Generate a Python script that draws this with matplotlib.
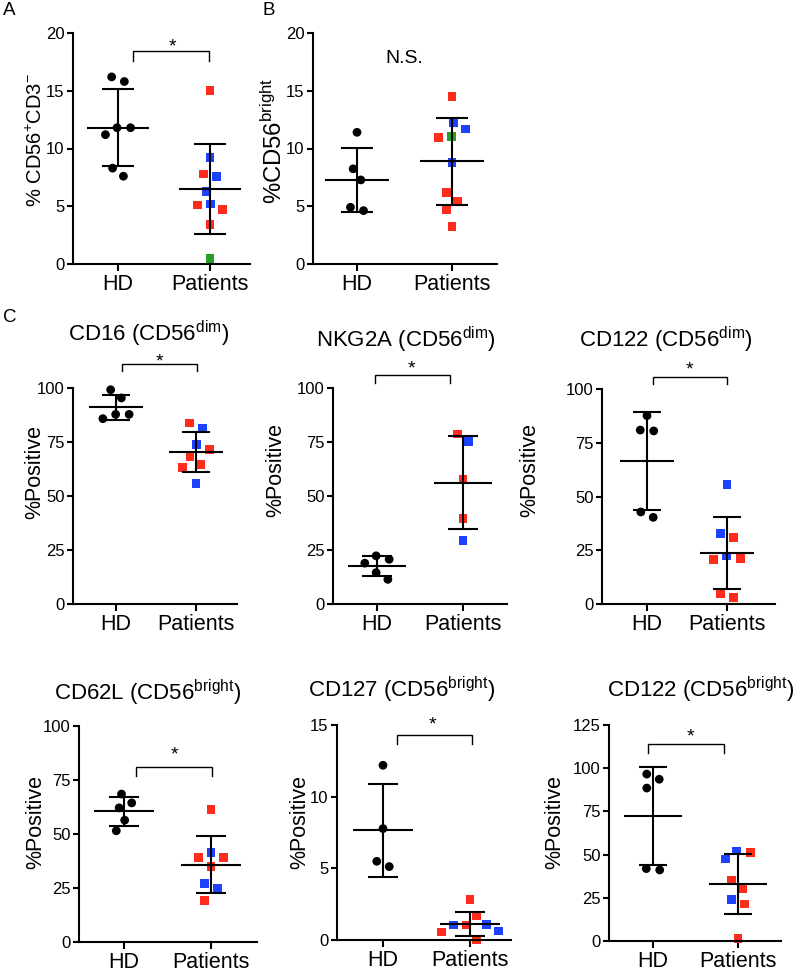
import numpy as np
import matplotlib
matplotlib.use('Agg')
import matplotlib.pyplot as plt

plt.rcParams['font.family'] = ['Liberation Sans', 'DejaVu Sans']
plt.rcParams['mathtext.fontset'] = 'custom'
plt.rcParams['mathtext.rm'] = 'Liberation Sans'
plt.rcParams['mathtext.it'] = 'Liberation Sans:italic'
plt.rcParams['mathtext.bf'] = 'Liberation Sans:bold'

# ---------------- data ----------------
groups = ['HD', 'Patients']

a_hd = [16.2, 15.8, 11.8, 11.8, 11.2, 8.3, 7.6]
a_pt = [15.0, 9.2, 7.8, 7.6, 6.3, 5.2, 5.1, 4.7, 3.4, 0.5]
a_pt_col = ['r', 'b', 'r', 'b', 'b', 'b', 'r', 'r', 'r', 'g']

b_hd = [11.4, 8.24, 7.28, 4.91, 4.62]
b_pt = [14.5, 12.2, 11.68, 11.04, 10.98, 8.82, 6.18, 5.46, 4.68, 3.24]
b_pt_col = ['r', 'b', 'b', 'g', 'r', 'b', 'r', 'r', 'r', 'r']

cd16_hd = [99.2, 95.4, 87.8, 87.8, 85.8]
cd16_pt = [83.8, 81.3, 73.8, 71.5, 68.4, 64.6, 63.2, 55.8]
cd16_pt_col = ['r', 'b', 'b', 'r', 'r', 'r', 'r', 'b']

nkg2a_hd = [22.3, 20.7, 18.9, 14.5, 11.4]
nkg2a_pt = [78.7, 75.3, 57.5, 39.7, 29.4]
nkg2a_pt_col = ['r', 'b', 'r', 'r', 'b']

cd122d_hd = [87.6, 80.9, 80.5, 42.8, 40.3]
cd122d_pt = [55.7, 32.9, 30.9, 22.3, 21.2, 20.6, 5.0, 2.9]
cd122d_pt_col = ['b', 'b', 'r', 'b', 'r', 'r', 'r', 'r']

cd62l_hd = [68.5, 64.4, 62.1, 56.4, 51.5]
cd62l_pt = [61.4, 41.4, 39.1, 39.1, 34.8, 27.1, 24.8, 19.3]
cd62l_pt_col = ['r', 'b', 'r', 'r', 'r', 'b', 'b', 'r']

cd127_hd = [12.19, 7.77, 5.49, 5.12]
cd127_pt = [2.84, 1.72, 1.09, 1.05, 1.05, 0.63, 0.56, 0.0]
cd127_pt_col = ['r', 'r', 'b', 'r', 'b', 'b', 'r', 'r']

cd122b_hd = [96.6, 93.6, 88.5, 41.9, 41.1]
cd122b_pt = [52.1, 51.1, 47.5, 35.3, 30.5, 24.1, 21.4, 1.5]
cd122b_pt_col = ['b', 'r', 'b', 'r', 'r', 'b', 'r', 'r']

COLORS = {'r': '#FF2B1C', 'b': '#1C42FF', 'g': '#22A02A', 'k': '#000000'}

W, H = 800, 977

# ---------------- layout (pixels) ----------------
panels = [
    dict(hd=a_hd, pt=a_pt, col=a_pt_col, box=(73, 33, 250, 264), cx=(118, 210),
         ylim=(0, 20), yticks=[0, 5, 10, 15, 20],
         ylabel=r'% CD56$^{+}$CD3$^{-}$', ylab_xy=(36, 140), ylab_len=134, title=None,
         bracket=(0.16, 0.99, 18.4, 17.6), star=(0.59, 18.4), ns=None),
    dict(hd=b_hd, pt=b_pt, col=b_pt_col, box=(313, 33, 497, 264), cx=(357, 452),
         ylim=(0, 20), yticks=[0, 5, 10, 15, 20],
         ylabel=r'%CD56$^{\mathrm{bright}}$', ylab_xy=(274, 141), ylab_len=127, title=None,
         bracket=None, star=None, ns=(0.5, 17.8)),
    dict(hd=cd16_hd, pt=cd16_pt, col=cd16_pt_col, box=(73, 388, 237, 604), cx=(116, 196),
         ylim=(0, 100), yticks=[0, 25, 50, 75, 100],
         ylabel='%Positive', ylab_xy=(35, 472), ylab_len=95,
         title=r'CD16 (CD56$^{\mathrm{dim}}$)', title_xy=(149, 334),
         bracket=(0.075, 1.01, 111.3, 107.7), star=(0.54, 110.0), ns=None),
    dict(hd=nkg2a_hd, pt=nkg2a_pt, col=nkg2a_pt_col, box=(333, 388, 507, 604), cx=(377, 463),
         ylim=(0, 100), yticks=[0, 25, 50, 75, 100],
         ylabel='%Positive', ylab_xy=(276, 470), ylab_len=95,
         title=r'NKG2A (CD56$^{\mathrm{dim}}$)', title_xy=(406, 340),
         bracket=(-0.02, 0.85, 106.0, 102.2), star=(0.40, 106.9), ns=None),
    dict(hd=cd122d_hd, pt=cd122d_pt, col=cd122d_pt_col, box=(602, 389, 775, 604), cx=(647, 727),
         ylim=(0, 100), yticks=[0, 25, 50, 75, 100],
         ylabel='%Positive', ylab_xy=(530, 470), ylab_len=95,
         title=r'CD122 (CD56$^{\mathrm{dim}}$)', title_xy=(666, 340),
         bracket=(0.075, 1.0, 105.7, 102.3), star=(0.53, 106.8), ns=None),
    dict(hd=cd62l_hd, pt=cd62l_pt, col=cd62l_pt_col, box=(79, 726, 257, 942), cx=(124, 211),
         ylim=(0, 100), yticks=[0, 25, 50, 75, 100],
         ylabel='%Positive', ylab_xy=(36, 822), ylab_len=95,
         title=r'CD62L (CD56$^{\mathrm{bright}}$)', title_xy=(148, 693),
         bracket=(0.14, 1.01, 81.1, 77.0), star=(0.58, 84.5), ns=None),
    dict(hd=cd127_hd, pt=cd127_pt, col=cd127_pt_col, box=(337, 725, 511, 940), cx=(383, 470),
         ylim=(0, 15), yticks=[0, 5, 10, 15],
         ylabel='%Positive', ylab_xy=(300, 822), ylab_len=95,
         title=r'CD127 (CD56$^{\mathrm{bright}}$)', title_xy=(402, 690),
         bracket=(0.16, 1.02, 14.3, 13.7), star=(0.57, 14.7), ns=None),
    dict(hd=cd122b_hd, pt=cd122b_pt, col=cd122b_pt_col, box=(609, 725, 781, 941), cx=(653, 738),
         ylim=(0, 125), yticks=[0, 25, 50, 75, 100, 125],
         ylabel='%Positive', ylab_xy=(555, 822), ylab_len=95,
         title=r'CD122 (CD56$^{\mathrm{bright}}$)', title_xy=(701, 690),
         bracket=(-0.055, 0.83, 114.0, 109.0), star=(0.44, 115.5), ns=None),
]


def swarm(vals, px_per_y, px_per_x, d=13.5):
    """Simple beeswarm: offsets (data units) so markers do not overlap."""
    v = np.asarray(vals, float)
    ypx = v * px_per_y
    order = list(np.argsort(-v, kind='stable'))
    clusters, cur = [], [order[0]]
    for i in order[1:]:
        if abs(ypx[cur[-1]] - ypx[i]) < d:
            cur.append(i)
        else:
            clusters.append(cur)
            cur = [i]
    clusters.append(cur)
    xs = np.zeros(len(v))
    for cl in clusters:
        placed = []
        for i in cl:
            ivs = []
            for j in placed:
                dy = abs(ypx[i] - ypx[j])
                if dy < d:
                    dx = np.sqrt(d * d - dy * dy)
                    ivs.append((xs[j] - dx, xs[j] + dx))
            cands = [0.0] + [e for iv in ivs for e in iv]
            best = 0.0
            for c in sorted(cands, key=lambda c: (round(abs(c), 6), -c)):
                if all(not (lo + 1e-9 < c < hi - 1e-9) for lo, hi in ivs):
                    best = c
                    break
            xs[i] = best
            placed.append(i)
        idx = np.array(cl)
        xs[idx] -= (xs[idx].min() + xs[idx].max()) / 2
    return xs / px_per_x


fig = plt.figure(figsize=(W / 100, H / 100), dpi=100)

LW = 1.5
MEAN_HW = 0.34
CAP_HW = 0.17
MS = 6.3

ylabel_texts = []
for p in panels:
    l, t, r, b = p['box']
    ax = fig.add_axes([l / W, 1 - b / H, (r - l) / W, (b - t) / H])
    hdx, ptx = p['cx']
    pxx = ptx - hdx
    ax.set_xlim((l - hdx) / pxx, (r - hdx) / pxx)
    ax.set_ylim(*p['ylim'])
    pxy = (b - t) / (p['ylim'][1] - p['ylim'][0])

    sets = [(p['hd'], ['k'] * len(p['hd']), 'o'), (p['pt'], p['col'], 's')]
    for gi, (vals, cols, mk) in enumerate(sets):
        vals = np.asarray(vals, float)
        xs = gi + swarm(vals, pxy, pxx)
        ax.scatter(xs, vals, s=MS ** 2, marker=mk, c=[COLORS[c] for c in cols],
                   linewidths=0, zorder=2, clip_on=False)
        m = vals.mean()
        sd = vals.std(ddof=1)
        ax.plot([gi - MEAN_HW, gi + MEAN_HW], [m, m], color='k', lw=LW, zorder=3,
                solid_capstyle='butt')
        ax.plot([gi, gi], [m - sd, m + sd], color='k', lw=LW, zorder=3,
                solid_capstyle='butt')
        for yy in (m - sd, m + sd):
            ax.plot([gi - CAP_HW, gi + CAP_HW], [yy, yy], color='k', lw=LW, zorder=3,
                    solid_capstyle='butt')

    for s in ['top', 'right']:
        ax.spines[s].set_visible(False)
    for s in ['left', 'bottom']:
        ax.spines[s].set_linewidth(LW)
    ax.set_yticks(p['yticks'])
    ax.set_xticks([0, 1])
    ax.set_xticklabels(groups)
    ax.tick_params(axis='y', length=4.5, width=LW, labelsize=12, pad=1.5)
    ax.tick_params(axis='x', length=5, width=LW, labelsize=15.5, pad=2)
    ax.patch.set_visible(False)

    if p['bracket'] is not None:
        x0, x1, yt, yd = p['bracket']
        ax.plot([x0, x0, x1, x1], [yd, yt, yt, yd], color='k', lw=1.0, clip_on=False,
                solid_joinstyle='miter')
    if p['star'] is not None:
        ax.text(p['star'][0], p['star'][1], '*', ha='center', va='baseline',
                fontsize=14, clip_on=False)
    if p['ns'] is not None:
        ax.text(p['ns'][0], p['ns'][1], 'N.S.', ha='center', va='center', fontsize=14)

    tl = fig.text(p['ylab_xy'][0] / W, 1 - p['ylab_xy'][1] / H, p['ylabel'], rotation=90,
                  ha='center', va='center', fontsize=15)
    ylabel_texts.append((tl, p['ylab_len']))
    if p.get('title'):
        fig.text(p['title_xy'][0] / W, 1 - p['title_xy'][1] / H, p['title'],
                 ha='center', va='center', fontsize=16)

for letter, (x, y) in zip(['A', 'B', 'C'], [(3, 2), (262, 2), (3, 309)]):
    fig.text(x / W, 1 - y / H, letter, ha='left', va='top', fontsize=13.5)

# fit rotated y-label lengths to the target pixel lengths
fig.canvas.draw()
renderer = fig.canvas.get_renderer()
for tl, target in ylabel_texts:
    h = tl.get_window_extent(renderer).height
    if h > 0:
        tl.set_fontsize(tl.get_fontsize() * target / h)

fig.savefig('out.png', dpi=100)
